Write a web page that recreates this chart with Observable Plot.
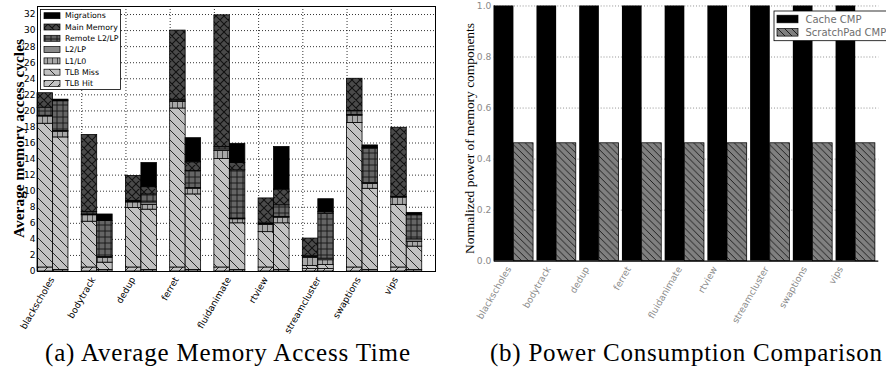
<!DOCTYPE html>
<html><head><meta charset="utf-8">
<script src="https://cdn.jsdelivr.net/npm/d3@7"></script>
<script src="https://cdn.jsdelivr.net/npm/@observablehq/plot@0.6"></script>
<style>
html,body{margin:0;padding:0;background:#fff;}
#wrap{position:relative;width:886px;height:369px;overflow:hidden;background:#fff;}
#left,#right,#over{position:absolute;top:0;}
#left{left:0;} #right{left:443px;} #over{left:0;}
</style></head><body>
<svg width="0" height="0" style="position:absolute">
<defs>
  <pattern id="pTlbHit" patternUnits="userSpaceOnUse" width="9" height="9">
    <rect width="9" height="9" fill="#c4c4c4"/>
    <path d="M-1,1 l2,-2 M0,9 l9,-9 M8,10 l2,-2" stroke="#1a1a1a" stroke-width="0.9"/>
  </pattern>
  <pattern id="pTlbMiss" patternUnits="userSpaceOnUse" width="10" height="10">
    <rect width="10" height="10" fill="#c2c2c2"/>
    <path d="M-1,9 l2,2 M0,0 l10,10 M9,-1 l2,2" stroke="#1a1a1a" stroke-width="0.9"/>
  </pattern>
  <pattern id="pL1" patternUnits="userSpaceOnUse" width="5" height="6">
    <rect width="5" height="6" fill="#a8a8a8"/>
    <path d="M2.5,0 v6" stroke="#333" stroke-width="0.8"/>
  </pattern>
  <pattern id="pL2" patternUnits="userSpaceOnUse" width="6" height="6">
    <rect width="6" height="6" fill="#8a8a8a"/>
  </pattern>
  <pattern id="pRemote" patternUnits="userSpaceOnUse" width="6" height="6">
    <rect width="6" height="6" fill="#656565"/>
    <path d="M0,3 h6 M3,0 v6" stroke="#141414" stroke-width="0.9"/>
  </pattern>
  <pattern id="pMain" patternUnits="userSpaceOnUse" width="8" height="8">
    <rect width="8" height="8" fill="#4a4a4a"/>
    <path d="M0,0 l8,8 M0,8 l8,-8 M-1,1 l2,-2 M7,9 l2,-2 M-1,7 l2,2 M7,-1 l2,2" stroke="#111" stroke-width="1.1"/>
  </pattern>
  <pattern id="pMigr" patternUnits="userSpaceOnUse" width="6" height="6">
    <rect width="6" height="6" fill="#000"/>
  </pattern>
  <pattern id="pSpm" patternUnits="userSpaceOnUse" width="7" height="7">
    <rect width="7" height="7" fill="#808080"/>
    <path d="M-1,6 l2,2 M0,0 l7,7 M6,-1 l2,2" stroke="#111" stroke-width="0.9"/>
  </pattern>
</defs>
</svg>
<div id="wrap"><div id="left"></div><div id="right"></div><svg id="over" width="886" height="369"></svg></div>
<script>
// ---------- data ----------
const benchmarks = ["blackscholes","bodytrack","dedup","ferret","fluidanimate","rtview","streamcluster","swaptions","vips"];
const components = ["TLB Hit","TLB Miss","L1/L0","L2/LP","Remote L2/LP","Main Memory","Migrations"];
const yTicksA = [0,2,4,6,8,10,12,14,16,18,20,22,24,26,28,30,32];
const yTicksB = [0.0,0.2,0.4,0.6,0.8,1.0];

// (a) left bar of each pair: Cache CMP
const cacheTlbHit  = [0.5,0.5,0.5,0.5,0.5,0.5,0.3,0.5,0.5];
const cacheTlbMiss = [17.9,5.7,7.4,19.8,13.5,4.4,0.4,18.0,7.8];
const cacheL1      = [0.9,0.8,0.7,0.8,1.0,0.9,1.0,0.9,0.9];
const cacheL2      = [0.1,0.1,0.1,0.1,0.2,0.1,0.1,0.1,0.05];
const cacheRemote  = [1.0,0.3,0.1,0.2,0.3,0.1,0.1,0.5,0.05];
const cacheMain    = [1.8,9.6,3.1,8.6,16.4,3.1,2.2,4.0,8.6];
const cacheMigr    = [0,0,0,0,0,0,0,0,0];
// (a) right bar of each pair: ScratchPad CMP
const spmTlbHit  = [0.2,0.2,0.2,0.2,0.2,0.2,0.3,0.2,0.2];
const spmTlbMiss = [16.5,0.9,7.5,9.4,5.8,5.8,0.5,10.1,2.9];
const spmL1      = [0.7,0.6,0.6,0.7,0.5,0.7,0.6,0.6,0.6];
const spmL2      = [0.1,0.1,0.3,0.1,0.1,0.1,0.2,0.1,0.3];
const spmRemote  = [3.7,4.5,1.0,2.1,6.0,1.45,5.6,4.3,3.0];
const spmMain    = [0.1,0,0.9,1.1,0.9,1.95,0.2,0.1,0];
const spmMigr    = [0.1,0.8,3.0,3.0,2.4,5.3,1.6,0.3,0.3];

// (b) normalized power
const powerCache = [1,1,1,1,1,1,1,1,1];
const powerSpm   = [0.462,0.462,0.462,0.462,0.462,0.462,0.462,0.462,0.462];
const seriesB = ["Cache CMP","ScratchPad CMP"];

// ---------- styles ----------
const compFill = {"TLB Hit":"url(#pTlbHit)","TLB Miss":"url(#pTlbMiss)","L1/L0":"url(#pL1)","L2/LP":"url(#pL2)",
  "Remote L2/LP":"url(#pRemote)","Main Memory":"url(#pMain)","Migrations":"url(#pMigr)"};
const BW = 0.35, BWB = 0.46;

const configs = [
  [cacheTlbHit,cacheTlbMiss,cacheL1,cacheL2,cacheRemote,cacheMain,cacheMigr],
  [spmTlbHit,spmTlbMiss,spmL1,spmL2,spmRemote,spmMain,spmMigr]
];
const rows = [];
configs.forEach((vals, c) => {
  benchmarks.forEach((b, i) => {
    let acc = 0;
    components.forEach((comp, k) => {
      const v = vals[k][i];
      if (v > 0) rows.push({bench: b, comp, x1: i + c*BW, x2: i + (c+1)*BW, y1: acc, y2: acc + v, fill: compFill[comp]});
      acc += v;
    });
  });
});
const idx = benchmarks.map((b,i)=>i);

const left = Plot.plot({
  width: 443, height: 345,
  marginLeft: 37, marginRight: 8, marginTop: 6, marginBottom: 74,
  style: {fontFamily: "DejaVu Sans", color: "#000", background: "transparent"},
  x: {domain: [0, 9], axis: null},
  y: {domain: [0, 33], axis: null},
  color: {type: "identity"},
  marks: [
    Plot.ruleY(yTicksA.slice(1), {y: d => d, stroke: "#000", strokeWidth: 0.8, strokeDasharray: "1,2"}),
    Plot.ruleX(idx.slice(1), {x: d => d, stroke: "#000", strokeWidth: 0.8, strokeDasharray: "1,2"}),
    Plot.rect(rows, {x1: "x1", x2: "x2", y1: "y1", y2: "y2", fill: "fill", stroke: "#000", strokeWidth: 0.8}),
    Plot.frame({stroke: "#000", strokeWidth: 1}),
    Plot.axisY(yTicksA, {tickSize: 0, tickPadding: 2, fontSize: 9, fill: "#000", label: null}),
    Plot.text(benchmarks, {x: (d,i) => i, y: () => 0, text: d => d, rotate: -60, textAnchor: "middle",
      fontSize: 9.2, fill: "#000"})
  ]
});
document.getElementById("left").appendChild(left);

const bRows = [];
benchmarks.forEach((b,i) => {
  bRows.push({s: seriesB[0], x1: i, x2: i + BWB, y: powerCache[i]});
  bRows.push({s: seriesB[1], x1: i + BWB, x2: i + 2*BWB, y: powerSpm[i]});
});
const right = Plot.plot({
  width: 460, height: 345,
  marginLeft: 52.7, marginRight: 8, marginTop: 5.7, marginBottom: 74.3,
  style: {fontFamily: "DejaVu Sans", color: "#808080", background: "transparent"},
  x: {domain: [0, 9], axis: null},
  y: {domain: [0, 1], axis: null},
  marks: [
    Plot.ruleY(yTicksB.slice(1), {y: d => d, stroke: "#8a8a8a", strokeWidth: 1, strokeDasharray: "1,2"}),
    Plot.rect(bRows.filter(d => d.s === seriesB[0]), {x1: "x1", x2: "x2", y1: 0, y2: "y", fill: "#000"}),
    Plot.rect(bRows.filter(d => d.s === seriesB[1]), {x1: "x1", x2: "x2", y1: 0, y2: "y", fill: "url(#pSpm)", stroke: "#000", strokeWidth: 0.8}),
    Plot.ruleX([0], {stroke: "#000", strokeWidth: 1.2}),
    Plot.ruleY([0], {stroke: "#000", strokeWidth: 1.2}),
    Plot.axisY(yTicksB, {tickSize: 0, tickPadding: 3, fontSize: 9.5, fill: "#8a8a8a", label: null, tickFormat: d3.format(".1f")}),
    Plot.text(benchmarks, {x: (d,i) => i, y: () => 0, text: d => d, rotate: -60, textAnchor: "middle",
      fontSize: 9.6, fill: "#8a8a8a"})
  ]
});
document.getElementById("right").appendChild(right);

// rotated tick labels: centred on each group's left edge, just below the axis
function placeLabels(svg, pad) {
  const xs = svg.scale("x"), ys = svg.scale("y");
  const y0 = ys.apply(0);
  Array.from(svg.querySelectorAll("text")).filter(t => benchmarks.includes(t.textContent)).forEach(t => {
    const i = benchmarks.indexOf(t.textContent);
    const L = t.getComputedTextLength();
    const fs = parseFloat(getComputedStyle(t).fontSize) || 10;
    const cx = xs.apply(i);
    const cy = y0 + pad + (L*Math.sin(Math.PI/3) + fs*Math.cos(Math.PI/3))/2;
    t.removeAttribute("x"); t.removeAttribute("y");
    t.setAttribute("text-anchor", "middle");
    t.setAttribute("dy", "0.32em");
    t.setAttribute("transform", `translate(${cx},${cy}) rotate(-60)`);
  });
}
placeLabels(left, 4);
placeLabels(right, 4);

// ---------- overlay: legends, titles, captions ----------
const over = d3.select("#over");
// legend (a)
const lgA = over.append("g");
lgA.append("rect").attr("x", 40.5).attr("y", 9.5).attr("width", 80).attr("height", 80)
  .attr("fill", "#fff").attr("stroke", "#000").attr("stroke-width", 0.8);
components.slice().reverse().forEach((c, k) => {
  const cy = 15.7 + k*11.3;
  lgA.append("rect").attr("x", 44).attr("y", cy - 3).attr("width", 16).attr("height", 6)
    .attr("fill", compFill[c]).attr("stroke", "#000").attr("stroke-width", 0.7);
  lgA.append("text").attr("x", 65).attr("y", cy).attr("dy", "0.35em")
    .attr("font-family", "DejaVu Sans").attr("font-size", 7.8).attr("fill", "#000").text(c);
});
// legend (b)
const lgB = over.append("g");
lgB.append("rect").attr("x", 774).attr("y", 11).attr("width", 130).attr("height", 29.7)
  .attr("fill", "#fff").attr("stroke", "#000").attr("stroke-width", 0.8);
[["#000", 19], ["url(#pSpm)", 32.3]].forEach(([f, cy], k) => {
  lgB.append("rect").attr("x", 777).attr("y", cy - 3.8).attr("width", 21).attr("height", 7.6)
    .attr("fill", f).attr("stroke", "#000").attr("stroke-width", 0.7);
  lgB.append("text").attr("x", 805.5).attr("y", cy).attr("dy", "0.35em")
    .attr("font-family", "DejaVu Sans").attr("font-size", 10).attr("fill", "#6e6e6e").text(seriesB[k]);
});
// axis titles
over.append("text").attr("transform", "translate(24,138.5) rotate(-90)").attr("text-anchor", "middle")
  .attr("font-family", "Liberation Serif").attr("font-weight", "bold").attr("font-size", 15)
  .attr("textLength", 199).attr("lengthAdjust", "spacingAndGlyphs").attr("fill", "#000")
  .text("Average memory access cycles");
over.append("text").attr("transform", "translate(474,138.5) rotate(-90)").attr("text-anchor", "middle")
  .attr("font-family", "Liberation Serif").attr("font-size", 13.4)
  .attr("textLength", 231).attr("lengthAdjust", "spacingAndGlyphs").attr("fill", "#000")
  .text("Normalized power of memory components");
// captions
over.append("text").attr("x", 45).attr("y", 361).attr("font-family", "Liberation Serif").attr("font-size", 25)
  .attr("textLength", 365).attr("lengthAdjust", "spacing").attr("fill", "#000").text("(a) Average Memory Access Time");
over.append("text").attr("x", 490).attr("y", 361).attr("font-family", "Liberation Serif").attr("font-size", 25)
  .attr("textLength", 392).attr("lengthAdjust", "spacing").attr("fill", "#000").text("(b) Power Consumption Comparison");
</script>
</body></html>
